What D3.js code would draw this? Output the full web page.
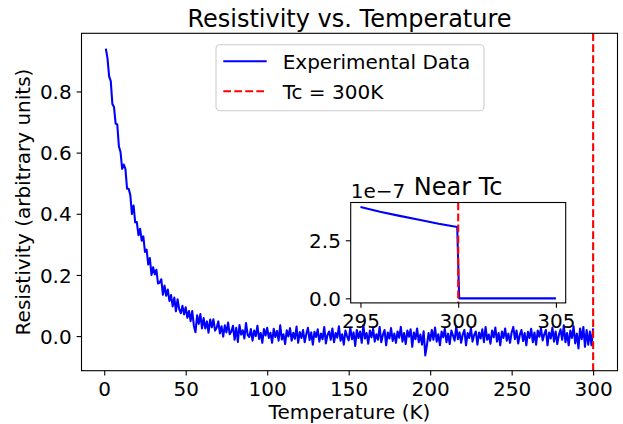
<!DOCTYPE html>
<html><head><meta charset="utf-8">
<script src="https://cdn.jsdelivr.net/npm/d3@7"></script>
<style>
body{margin:0;background:#fff;}
text{font-family:"DejaVu Sans",sans-serif;fill:#000;}
</style>
</head><body>
<svg id="chart" width="623" height="424"></svg>
<script>
// ---- data ----
const tempStart = 1;      // K, first measured temperature
const tempStep = 1;       // K, spacing of the measurement grid
const resistivity = [
 0.940,0.908,0.849,0.834,0.759,0.749,0.695,0.692,0.620,0.602,
 0.547,0.561,0.547,0.482,0.482,0.461,0.399,0.427,0.372,0.373,
 0.330,0.351,0.312,0.326,0.275,0.283,0.234,0.255,0.200,0.225,
 0.202,0.217,0.172,0.175,0.186,0.135,0.165,0.132,0.152,0.115,
 0.134,0.097,0.126,0.081,0.120,0.088,0.075,0.099,0.071,0.094,
 0.060,0.082,0.049,0.082,0.034,0.013,0.068,0.040,0.072,0.025,
 0.059,0.025,0.048,0.011,0.054,0.029,0.055,0.018,0.027,0.048,
 0.009,0.032,-0.002,0.035,0.012,0.044,0.006,0.015,0.034,-0.012,
 0.027,-0.019,0.036,0.005,0.019,-0.008,0.043,0.004,-0.003,0.023,
 -0.015,0.018,0.000,0.034,-0.009,0.010,-0.022,0.023,0.002,0.027,
 -0.006,0.011,-0.022,0.024,-0.003,0.017,-0.015,0.035,-0.011,0.006,
 -0.026,0.019,-0.001,0.026,-0.015,0.011,-0.009,0.031,-0.022,0.013,
 -0.006,0.020,-0.020,0.007,0.027,-0.013,0.012,-0.028,0.014,-0.003,
 0.022,-0.018,0.008,-0.010,0.030,-0.024,0.004,0.015,-0.012,0.025,
 -0.020,0.010,-0.005,0.032,-0.015,0.006,-0.028,0.018,0.000,-0.014,
 0.028,-0.010,0.012,-0.032,0.020,-0.006,0.015,-0.022,0.035,-0.008,
 0.010,-0.025,0.018,-0.004,0.024,-0.018,0.006,-0.012,0.030,-0.020,
 0.004,0.020,-0.030,0.012,-0.008,0.026,-0.016,0.008,-0.022,0.015,
 -0.005,0.030,-0.018,0.010,-0.026,0.018,-0.002,0.022,-0.035,0.012,
 -0.010,0.025,-0.020,0.005,-0.028,0.016,-0.063,-0.030,0.010,-0.015,
 0.020,-0.012,0.028,-0.018,0.006,-0.030,0.015,-0.004,0.024,-0.020,
 0.008,-0.026,0.018,0.002,-0.015,0.032,-0.010,0.012,-0.022,0.006,
 0.020,-0.030,0.010,-0.006,0.026,-0.018,0.004,0.015,-0.028,0.012,
 -0.008,0.022,-0.020,0.030,-0.012,0.005,-0.025,0.018,-0.004,0.028,
 -0.018,0.010,-0.030,0.015,-0.006,0.025,-0.015,0.008,-0.022,0.012,
 0.030,-0.010,0.018,-0.024,0.004,0.020,-0.016,0.010,-0.030,0.014,
 -0.006,0.024,-0.020,0.012,-0.028,0.018,-0.002,0.026,-0.014,0.006,
 0.020,-0.030,0.012,-0.008,0.028,-0.018,0.015,-0.026,0.004,0.022,
 -0.012,0.035,-0.020,0.010,-0.030,0.018,-0.006,0.032,-0.024,0.008,
 -0.040,0.025,-0.010,0.030,-0.035,0.020,-0.028,0.015,-0.030,0.025
];
const insetTemps  = [295, 296, 297, 298, 299, 299.95, 300.05, 301, 302, 303, 304, 305];
const insetValues = [3.93e-7, 3.73e-7, 3.55e-7, 3.38e-7, 3.21e-7, 3.07e-7, 0, 0, 0, 0, 0, 0];
const Tc = 300;
const xTicks = [0, 50, 100, 150, 200, 250, 300];
const yTicks = [0.0, 0.2, 0.4, 0.6, 0.8];
const insetXTicks = [295, 300, 305];
const insetYTicks = [0, 2.5e-7];
const insetExponent = 1e-7;
const titleText = "Resistivity vs. Temperature";
const xLabel = "Temperature (K)";
const yLabel = "Resistivity (arbitrary units)";
const legendLabels = ["Experimental Data", "Tc = 300K"];
const insetTitle = "Near Tc";

// ---- layout ----
const svg = d3.select("#chart");
const M = {left: 81.5, right: 617.5, top: 33.3, bottom: 370.7};
const I = {left: 350.7, right: 565.7, top: 202.5, bottom: 302.9};
const BLUE = "#0000ff", RED = "#ff0000";
const FS = 20, TFS = 24;

const temps = resistivity.map((_, i) => tempStart + i * tempStep);
const pts = temps.map((t, i) => [t, resistivity[i]]);

function padDomain(lo, hi) { const m = (hi - lo) * 0.05; return [lo - m, hi + m]; }
const xExt = d3.extent(temps.concat([Tc]));
const yExt = d3.extent(resistivity);
const x = d3.scaleLinear().domain(padDomain(xExt[0], xExt[1])).range([M.left, M.right]);
const y = d3.scaleLinear().domain(padDomain(yExt[0], yExt[1])).range([M.bottom, M.top]);

// main curve
svg.append("path").datum(pts)
  .attr("d", d3.line().x(d => x(d[0])).y(d => y(d[1])))
  .attr("fill", "none").attr("stroke", BLUE).attr("stroke-width", 2.08)
  .attr("stroke-linejoin", "round");

// Tc line
svg.append("line").attr("x1", x(Tc)).attr("x2", x(Tc)).attr("y1", M.top).attr("y2", M.bottom)
  .attr("stroke", RED).attr("stroke-width", 2.08).attr("stroke-dasharray", "7.7,3.3");

// frame
svg.append("rect").attr("x", M.left).attr("y", M.top)
  .attr("width", M.right - M.left).attr("height", M.bottom - M.top)
  .attr("fill", "none").attr("stroke", "#000").attr("stroke-width", 1.1);

// axes
function styleAxis(g, bottom) {
  g.select(".domain").remove();
  g.selectAll(".tick line").attr("stroke", "#000").attr("stroke-width", 1.1);
  g.selectAll(".tick text").attr("font-size", FS).attr("font-family", "DejaVu Sans").attr("fill", "#000");
  if (bottom) g.selectAll(".tick text").attr("y", 25.6).attr("dy", 0);
  else g.selectAll(".tick text").attr("dy", "0.36em");
}
svg.append("g").attr("transform", `translate(0,${M.bottom})`)
  .call(d3.axisBottom(x).tickValues(xTicks).tickSize(4.9).tickPadding(4.9).tickFormat(d3.format("d")))
  .call(g => styleAxis(g, true));
svg.append("g").attr("transform", `translate(${M.left},0)`)
  .call(d3.axisLeft(y).tickValues(yTicks).tickSize(4.9).tickPadding(4.9).tickFormat(d3.format(".1f")))
  .call(g => styleAxis(g, false));

// titles & labels
const cx = (M.left + M.right) / 2;
svg.append("text").attr("x", cx).attr("y", 26.5).attr("text-anchor", "middle")
  .attr("font-size", TFS).text(titleText);
svg.append("text").attr("x", cx).attr("y", 419).attr("text-anchor", "middle")
  .attr("font-size", FS).text(xLabel);
svg.append("text").attr("transform", `translate(30,${(M.top + M.bottom) / 2}) rotate(-90)`)
  .attr("text-anchor", "middle").attr("font-size", FS).text(yLabel);

// legend
const lg = svg.append("g");
lg.append("rect").attr("x", 216).attr("y", 44.7).attr("width", 268).attr("height", 66)
  .attr("rx", 4).attr("fill", "#fff").attr("fill-opacity", 0.8)
  .attr("stroke", "#cccccc").attr("stroke-width", 1.1);
const legendStyles = [{c: BLUE, dash: null}, {c: RED, dash: "7.7,3.3"}];
legendLabels.forEach((lab, i) => {
  const ly = 61.3 + i * 30;
  const ln = lg.append("line").attr("x1", 223.3).attr("x2", 266.7).attr("y1", ly).attr("y2", ly)
    .attr("stroke", legendStyles[i].c).attr("stroke-width", 2.08);
  if (legendStyles[i].dash) ln.attr("stroke-dasharray", legendStyles[i].dash);
  lg.append("text").attr("x", 282.7).attr("y", ly).attr("dy", "0.36em")
    .attr("font-size", FS).text(lab);
});

// ---- inset ----
const ix = d3.scaleLinear().domain(padDomain(d3.min(insetTemps), d3.max(insetTemps))).range([I.left, I.right]);
const iy = d3.scaleLinear().domain(padDomain(d3.min(insetValues), d3.max(insetValues))).range([I.bottom, I.top]);
const ig = svg.append("g");
ig.append("rect").attr("x", I.left).attr("y", I.top).attr("width", I.right - I.left)
  .attr("height", I.bottom - I.top).attr("fill", "#fff");
ig.append("path").datum(insetTemps.map((t, i) => [t, insetValues[i]]))
  .attr("d", d3.line().x(d => ix(d[0])).y(d => iy(d[1])))
  .attr("fill", "none").attr("stroke", BLUE).attr("stroke-width", 2.08).attr("stroke-linejoin", "round");
ig.append("line").attr("x1", ix(Tc)).attr("x2", ix(Tc)).attr("y1", I.top).attr("y2", I.bottom)
  .attr("stroke", RED).attr("stroke-width", 2.08).attr("stroke-dasharray", "7.7,3.3");
ig.append("rect").attr("x", I.left).attr("y", I.top).attr("width", I.right - I.left)
  .attr("height", I.bottom - I.top).attr("fill", "none").attr("stroke", "#000").attr("stroke-width", 1.1);
ig.append("g").attr("transform", `translate(0,${I.bottom})`)
  .call(d3.axisBottom(ix).tickValues(insetXTicks).tickSize(4.9).tickPadding(4.9).tickFormat(d3.format("d")))
  .call(g => styleAxis(g, true));
ig.append("g").attr("transform", `translate(${I.left},0)`)
  .call(d3.axisLeft(iy).tickValues(insetYTicks).tickSize(4.9).tickPadding(4.9)
    .tickFormat(d => d3.format(".1f")(d / insetExponent)))
  .call(g => styleAxis(g, false));
ig.append("text").attr("x", I.left).attr("y", 198.3).attr("font-size", FS).text("1e\u22127");
ig.append("text").attr("x", (I.left + I.right) / 2).attr("y", 195).attr("text-anchor", "middle")
  .attr("font-size", TFS).text(insetTitle);
</script>
</body></html>
